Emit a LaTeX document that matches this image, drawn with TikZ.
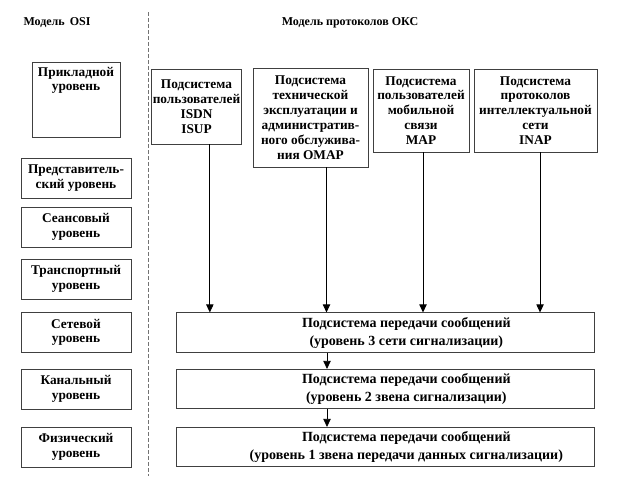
\documentclass[tikz,border=0pt]{standalone}
\usepackage{fontspec}
\setmainfont{Liberation Serif}
\usetikzlibrary{arrows.meta}
\begin{document}
\begin{tikzpicture}[x=0.75pt,y=-0.75pt,
  osibox/.style={draw=black!75, line width=0.6pt, minimum width=82.5pt, minimum height=30pt, align=center, inner sep=1pt, font=\bfseries\fontsize{10}{11}\selectfont},
  userbox/.style={draw=black!75, line width=0.6pt, align=center, inner sep=1pt, font=\bfseries\fontsize{10}{11.2}\selectfont},
  msgbox/.style={draw=black!75, line width=0.6pt, minimum width=313.5pt, minimum height=29.5pt},
  msgtext/.style={align=center, inner sep=1pt, font=\bfseries\fontsize{10.5}{13.5}\selectfont},
  flow/.style={-{Triangle[length=6pt,width=5.5pt]}, line width=0.6pt}]
\useasboundingbox (0,0) rectangle (620,482);
% headings and the dashed divider
\node[font=\bfseries\fontsize{9}{11}\selectfont] (hosi) at (57,23) {Модель\, OSI};
\node[font=\bfseries\fontsize{9}{11}\selectfont] (hoks) at (350,23) {Модель протоколов ОКС};
\draw[black!55, line width=0.7pt, dash pattern=on 3pt off 1.5pt] (148,12) -- (148,476);
% OSI levels
\node[osibox, minimum width=66pt, minimum height=56.25pt] (app) at (76,99.5) {};
\node[below=1pt, align=center, font=\bfseries\fontsize{10}{10.5}\selectfont] (apptext) at (app.north) {Прикладной\\уровень};
\node[osibox] (pres) at (76,178) {Представитель-\\ский уровень};
\node[osibox] (sess) at (76,227) {Сеансовый\\уровень};
\node[osibox] (trans) at (76,279) {Транспортный\\уровень};
\node[osibox] (net) at (76,332.5) {Сетевой\\уровень};
\node[osibox] (link) at (76,389) {Канальный\\уровень};
\node[osibox] (phys) at (76,447) {Физический\\уровень};
% user parts
\node[userbox, minimum width=63.75pt, minimum height=56.25pt] (isdn) at (196.5,106.5) {Подсистема\\пользователей\\ISDN\\ISUP};
\node[userbox, minimum width=86.25pt, minimum height=74.25pt] (omap) at (310.5,117.5) {Подсистема\\технической\\эксплуатации и\\административ-\\ного обслужива-\\ния OMAP};
\node[userbox, minimum width=72pt, minimum height=62.25pt] (map) at (421,110.5) {Подсистема\\пользователей\\мобильной\\связи\\MAP};
\node[userbox, minimum width=92.25pt, minimum height=62.25pt] (inap) at (535.5,110.5) {Подсистема\\протоколов\\интеллектуальной\\сети\\INAP};
% message transfer part
\node[msgbox] (mtp3) at (385,332.5) {};
\node[msgbox] (mtp2) at (385,389) {};
\node[msgbox] (mtp1) at (385,447) {};
\node[msgtext, xshift=16pt] (mtp3text) at (mtp3) {Подсистема передачи сообщений\\(уровень 3 сети сигнализации)};
\node[msgtext, xshift=16pt] (mtp2text) at (mtp2) {Подсистема передачи сообщений\\(уровень 2 звена сигнализации)};
\node[msgtext, xshift=16pt] (mtp1text) at (mtp1) {Подсистема передачи сообщений\\(уровень 1 звена передачи данных сигнализации)};
\draw[flow] ([xshift=10pt]isdn.south) -- ([xshift=10pt]isdn.south |- mtp3.north);
\draw[flow] ([xshift=12pt]omap.south) -- ([xshift=12pt]omap.south |- mtp3.north);
\draw[flow] ([xshift=1.5pt]map.south) -- ([xshift=1.5pt]map.south |- mtp3.north);
\draw[flow] ([xshift=3.4pt]inap.south) -- ([xshift=3.4pt]inap.south |- mtp3.north);
\draw[flow] ([xshift=-43.5pt]mtp3.south) -- ([xshift=-43.5pt]mtp2.north);
\draw[flow] ([xshift=-43.5pt]mtp2.south) -- ([xshift=-43.5pt]mtp1.north);
\end{tikzpicture}
\end{document}
